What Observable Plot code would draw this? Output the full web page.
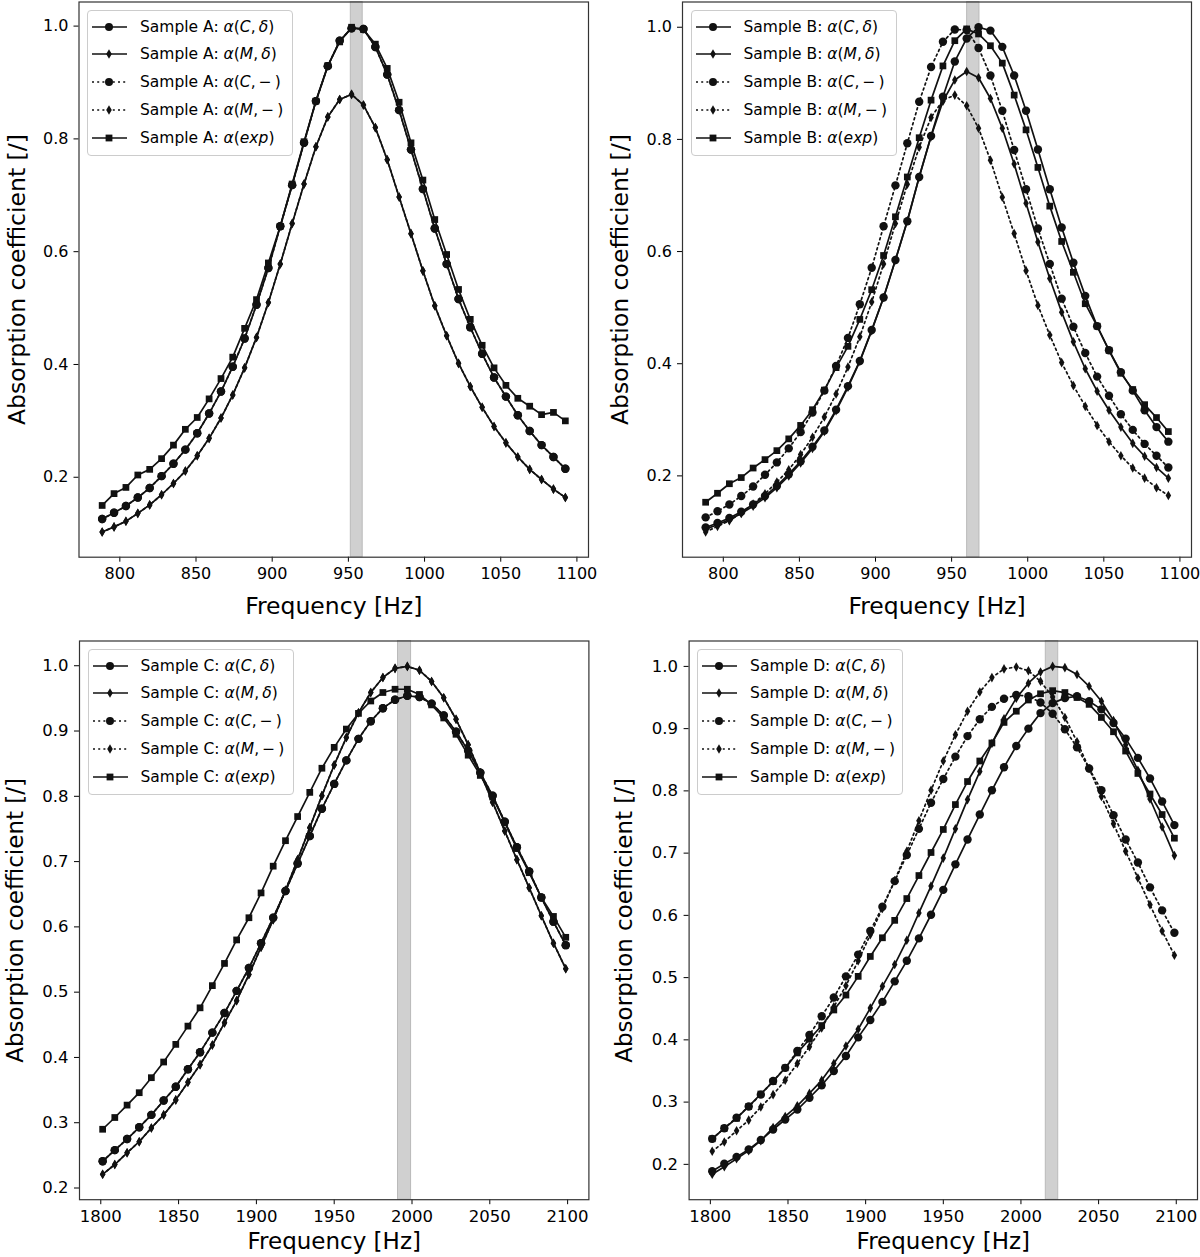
<!DOCTYPE html>
<html><head><meta charset="utf-8">
<script src="https://cdn.jsdelivr.net/npm/d3@7"></script>
<script src="https://cdn.jsdelivr.net/npm/@observablehq/plot@0.6"></script>
<style>
body{margin:0;background:#fff;}
#fig{position:relative;width:1200px;height:1257px;background:#fff;overflow:hidden;}
.panel{position:absolute;}
.legend{position:absolute;background:rgba(255,255,255,0.85);border:1px solid #cccccc;border-radius:4px;box-sizing:border-box;font-family:"DejaVu Sans",sans-serif;font-size:15.5px;color:#000;}
.legend .row{position:absolute;left:0;height:28px;display:flex;align-items:center;white-space:nowrap;}
.legend .txt{position:absolute;left:52px;}
.legend svg{position:absolute;left:3px;top:0;}
</style></head><body><div id="fig"></div>
<script>
// ---------- frequencies (Hz) ----------
const freqAB = [788.4, 796.2, 804.0, 811.8, 819.6, 827.4, 835.2, 843.0, 850.8, 858.6,
  866.4, 874.1, 881.9, 889.7, 897.5, 905.3, 913.1, 920.9, 928.7, 936.5,
  944.3, 952.1, 959.9, 967.7, 975.5, 983.3, 991.1, 998.9, 1006.7, 1014.5,
  1022.3, 1030.0, 1037.8, 1045.6, 1053.4, 1061.2, 1069.0, 1076.8, 1084.6, 1092.4];
const freqCD = [1801.2, 1809.0, 1816.9, 1824.7, 1832.5, 1840.4, 1848.2, 1856.0, 1863.8, 1871.7,
  1879.5, 1887.3, 1895.2, 1903.0, 1910.8, 1918.7, 1926.5, 1934.3, 1942.1, 1950.0,
  1957.8, 1965.6, 1973.5, 1981.3, 1989.1, 1997.0, 2004.8, 2012.6, 2020.4, 2028.3,
  2036.1, 2043.9, 2051.8, 2059.6, 2067.4, 2075.3, 2083.1, 2090.9, 2098.8];

// ---------- ticks ----------
const xTicksAB = [800, 850, 900, 950, 1000, 1050, 1100];
const xTicksCD = [1800, 1850, 1900, 1950, 2000, 2050, 2100];
const yTicksAB = [0.2, 0.4, 0.6, 0.8, 1.0];
const yTicksCD = [0.2, 0.3, 0.4, 0.5, 0.6, 0.7, 0.8, 0.9, 1.0];

// ---------- shaded frequency bands ----------
const bandA = [951.6, 959.4];
const bandB = [960.2, 968.3];
const bandC = [1991.0, 1999.4];
const bandD = [2016.0, 2024.0];

// ---------- Sample A ----------
const sampleA_Cdelta = [0.126, 0.137, 0.149, 0.164, 0.181, 0.202, 0.224, 0.249, 0.278, 0.313, 0.352, 0.396, 0.446, 0.506, 0.571, 0.645, 0.718, 0.793, 0.867, 0.929, 0.974, 0.996, 0.995, 0.963, 0.914, 0.851, 0.781, 0.711, 0.641, 0.578, 0.516, 0.466, 0.419, 0.377, 0.343, 0.310, 0.282, 0.257, 0.236, 0.215];
const sampleA_Mdelta = [0.103, 0.112, 0.122, 0.136, 0.151, 0.169, 0.189, 0.211, 0.238, 0.269, 0.305, 0.346, 0.394, 0.448, 0.510, 0.578, 0.650, 0.720, 0.786, 0.839, 0.870, 0.879, 0.860, 0.820, 0.763, 0.697, 0.632, 0.566, 0.504, 0.451, 0.402, 0.361, 0.324, 0.290, 0.261, 0.236, 0.214, 0.196, 0.179, 0.164];
const sampleA_Cminus = [0.126, 0.137, 0.149, 0.164, 0.181, 0.202, 0.224, 0.249, 0.278, 0.313, 0.352, 0.396, 0.446, 0.506, 0.571, 0.645, 0.718, 0.793, 0.867, 0.929, 0.974, 0.996, 0.995, 0.963, 0.914, 0.851, 0.781, 0.711, 0.641, 0.578, 0.516, 0.466, 0.419, 0.377, 0.343, 0.310, 0.282, 0.257, 0.236, 0.215];
const sampleA_Mminus = [0.103, 0.112, 0.122, 0.136, 0.151, 0.169, 0.189, 0.211, 0.238, 0.269, 0.305, 0.346, 0.394, 0.448, 0.510, 0.578, 0.650, 0.720, 0.786, 0.839, 0.870, 0.879, 0.860, 0.820, 0.763, 0.697, 0.632, 0.566, 0.504, 0.451, 0.402, 0.361, 0.324, 0.290, 0.261, 0.236, 0.214, 0.196, 0.179, 0.164];
const sampleA_exp = [0.150, 0.171, 0.182, 0.204, 0.214, 0.233, 0.257, 0.285, 0.306, 0.339, 0.375, 0.413, 0.464, 0.515, 0.580, 0.645, 0.720, 0.795, 0.867, 0.930, 0.972, 0.998, 0.994, 0.968, 0.925, 0.865, 0.793, 0.727, 0.657, 0.595, 0.533, 0.480, 0.434, 0.394, 0.363, 0.340, 0.326, 0.311, 0.315, 0.300];

// ---------- Sample B ----------
const sampleB_Cdelta = [0.108, 0.116, 0.125, 0.136, 0.149, 0.164, 0.182, 0.203, 0.226, 0.252, 0.281, 0.318, 0.360, 0.405, 0.460, 0.518, 0.585, 0.654, 0.733, 0.806, 0.876, 0.939, 0.980, 1.000, 0.994, 0.965, 0.914, 0.851, 0.782, 0.711, 0.643, 0.580, 0.521, 0.467, 0.424, 0.385, 0.352, 0.317, 0.287, 0.261];
const sampleB_Mdelta = [0.105, 0.113, 0.122, 0.133, 0.146, 0.161, 0.179, 0.200, 0.223, 0.249, 0.279, 0.316, 0.358, 0.404, 0.459, 0.518, 0.585, 0.655, 0.733, 0.805, 0.868, 0.906, 0.921, 0.910, 0.873, 0.820, 0.756, 0.686, 0.617, 0.552, 0.492, 0.439, 0.391, 0.351, 0.317, 0.287, 0.258, 0.235, 0.215, 0.196];
const sampleB_Cminus = [0.126, 0.137, 0.149, 0.164, 0.181, 0.202, 0.224, 0.249, 0.278, 0.313, 0.352, 0.396, 0.446, 0.506, 0.571, 0.645, 0.718, 0.793, 0.867, 0.929, 0.974, 0.996, 0.995, 0.963, 0.914, 0.851, 0.781, 0.711, 0.641, 0.578, 0.516, 0.466, 0.419, 0.377, 0.343, 0.310, 0.282, 0.257, 0.236, 0.215];
const sampleB_Mminus = [0.100, 0.110, 0.120, 0.134, 0.150, 0.168, 0.189, 0.211, 0.238, 0.269, 0.305, 0.346, 0.394, 0.448, 0.510, 0.578, 0.650, 0.720, 0.786, 0.839, 0.870, 0.879, 0.860, 0.820, 0.763, 0.697, 0.632, 0.566, 0.504, 0.451, 0.402, 0.361, 0.324, 0.290, 0.261, 0.236, 0.214, 0.196, 0.179, 0.165];
const sampleB_exp = [0.153, 0.169, 0.186, 0.197, 0.214, 0.229, 0.245, 0.266, 0.290, 0.318, 0.353, 0.393, 0.431, 0.479, 0.532, 0.593, 0.662, 0.733, 0.803, 0.870, 0.931, 0.976, 0.997, 0.988, 0.967, 0.936, 0.879, 0.817, 0.750, 0.681, 0.618, 0.563, 0.507, 0.467, 0.424, 0.383, 0.354, 0.327, 0.304, 0.279];

// ---------- Sample C ----------
const sampleC_Cdelta = [0.241, 0.258, 0.275, 0.293, 0.312, 0.334, 0.355, 0.382, 0.408, 0.438, 0.468, 0.502, 0.537, 0.575, 0.614, 0.655, 0.697, 0.739, 0.781, 0.819, 0.855, 0.888, 0.915, 0.935, 0.948, 0.954, 0.952, 0.942, 0.924, 0.899, 0.870, 0.836, 0.801, 0.761, 0.722, 0.685, 0.645, 0.608, 0.572];
const sampleC_Mdelta = [0.221, 0.236, 0.254, 0.271, 0.292, 0.312, 0.335, 0.362, 0.389, 0.419, 0.453, 0.487, 0.527, 0.569, 0.611, 0.656, 0.703, 0.752, 0.801, 0.848, 0.890, 0.928, 0.959, 0.982, 0.996, 0.999, 0.993, 0.976, 0.951, 0.918, 0.879, 0.836, 0.791, 0.747, 0.703, 0.660, 0.617, 0.575, 0.536];
const sampleC_Cminus = [0.241, 0.258, 0.275, 0.293, 0.312, 0.334, 0.355, 0.382, 0.408, 0.438, 0.468, 0.502, 0.537, 0.575, 0.614, 0.655, 0.697, 0.739, 0.781, 0.819, 0.855, 0.888, 0.915, 0.935, 0.948, 0.954, 0.952, 0.942, 0.924, 0.899, 0.870, 0.836, 0.801, 0.761, 0.722, 0.685, 0.645, 0.608, 0.572];
const sampleC_Mminus = [0.221, 0.236, 0.254, 0.271, 0.292, 0.312, 0.335, 0.362, 0.389, 0.419, 0.453, 0.487, 0.527, 0.569, 0.611, 0.656, 0.703, 0.752, 0.801, 0.848, 0.890, 0.928, 0.959, 0.982, 0.996, 0.999, 0.993, 0.976, 0.951, 0.918, 0.879, 0.836, 0.791, 0.747, 0.703, 0.660, 0.617, 0.575, 0.536];
const sampleC_exp = [0.290, 0.308, 0.327, 0.346, 0.369, 0.393, 0.420, 0.448, 0.476, 0.510, 0.544, 0.580, 0.614, 0.652, 0.693, 0.732, 0.769, 0.806, 0.843, 0.875, 0.903, 0.927, 0.946, 0.959, 0.964, 0.964, 0.956, 0.940, 0.920, 0.895, 0.863, 0.832, 0.799, 0.760, 0.720, 0.683, 0.645, 0.616, 0.584];

// ---------- Sample D ----------
const sampleD_Cdelta = [0.189, 0.201, 0.212, 0.224, 0.239, 0.256, 0.272, 0.288, 0.307, 0.327, 0.350, 0.374, 0.404, 0.432, 0.461, 0.494, 0.527, 0.563, 0.601, 0.641, 0.682, 0.722, 0.762, 0.801, 0.838, 0.872, 0.900, 0.925, 0.941, 0.949, 0.952, 0.944, 0.931, 0.909, 0.884, 0.853, 0.820, 0.783, 0.745];
const sampleD_Mdelta = [0.184, 0.196, 0.209, 0.222, 0.238, 0.259, 0.277, 0.294, 0.314, 0.335, 0.362, 0.390, 0.417, 0.451, 0.486, 0.521, 0.560, 0.604, 0.647, 0.692, 0.739, 0.786, 0.831, 0.876, 0.916, 0.949, 0.973, 0.991, 1.000, 0.998, 0.987, 0.968, 0.944, 0.913, 0.874, 0.833, 0.787, 0.742, 0.696];
const sampleD_Cminus = [0.241, 0.258, 0.275, 0.293, 0.312, 0.334, 0.355, 0.382, 0.408, 0.438, 0.468, 0.502, 0.537, 0.575, 0.614, 0.655, 0.697, 0.739, 0.781, 0.819, 0.855, 0.888, 0.915, 0.935, 0.948, 0.954, 0.952, 0.942, 0.924, 0.899, 0.870, 0.836, 0.801, 0.761, 0.722, 0.685, 0.645, 0.608, 0.572];
const sampleD_Mminus = [0.221, 0.236, 0.254, 0.271, 0.292, 0.312, 0.335, 0.362, 0.389, 0.419, 0.453, 0.487, 0.527, 0.569, 0.611, 0.656, 0.703, 0.752, 0.801, 0.848, 0.890, 0.928, 0.959, 0.982, 0.996, 0.999, 0.993, 0.976, 0.951, 0.918, 0.879, 0.836, 0.791, 0.747, 0.703, 0.660, 0.617, 0.575, 0.536];
const sampleD_exp = [0.241, 0.258, 0.274, 0.293, 0.313, 0.333, 0.355, 0.379, 0.401, 0.423, 0.448, 0.472, 0.502, 0.534, 0.564, 0.592, 0.627, 0.664, 0.701, 0.738, 0.778, 0.815, 0.848, 0.877, 0.910, 0.928, 0.946, 0.956, 0.961, 0.958, 0.950, 0.939, 0.918, 0.895, 0.864, 0.828, 0.795, 0.762, 0.724];

// ---------- series styles & labels ----------
const seriesKeys = ["Cdelta", "Mdelta", "Cminus", "Mminus", "exp"];
const seriesSymbols = ["circle", "diamond", "circle", "diamond", "square"];
const seriesDotted = [false, false, true, true, false];
const seriesMath = [
  '<i>α</i>(<i>C</i>,\u2009<i>δ</i>)',
  '<i>α</i>(<i>M</i>,\u2009<i>δ</i>)',
  '<i>α</i>(<i>C</i>,\u2009−\u2009)',
  '<i>α</i>(<i>M</i>,\u2009−\u2009)',
  '<i>α</i>(<i>exp</i>)'
];
const symbolR = {circle: 4.2, diamond: 2.9, square: 3.8};
const INK = "#111";
const DASH = "2,3.2";

const panels = [
  {name: "A", freq: freqAB, band: bandA, xTicks: xTicksAB, yTicks: yTicksAB,
   values: [sampleA_Cdelta, sampleA_Mdelta, sampleA_Cminus, sampleA_Mminus, sampleA_exp],
   left: 0, top: 0, width: 600, height: 628, mL: 78.5, mR: 12, mT: 1.5, mB: 71.3,
   tickFont: 16, tickPad: 5.5, labelFont: 23.5, xLabelDy: 49, yLabelDx: -62},
  {name: "B", freq: freqAB, band: bandB, xTicks: xTicksAB, yTicks: yTicksAB,
   values: [sampleB_Cdelta, sampleB_Mdelta, sampleB_Cminus, sampleB_Mminus, sampleB_exp],
   left: 600, top: 0, width: 600, height: 628, mL: 82, mR: 9, mT: 1.5, mB: 71.3,
   tickFont: 16, tickPad: 5.5, labelFont: 23.5, xLabelDy: 49, yLabelDx: -62},
  {name: "C", freq: freqCD, band: bandC, xTicks: xTicksCD, yTicks: yTicksCD,
   values: [sampleC_Cdelta, sampleC_Mdelta, sampleC_Cminus, sampleC_Mminus, sampleC_exp],
   left: 0, top: 628, width: 600, height: 629, mL: 79, mR: 11.6, mT: 12.5, mB: 57.8,
   tickFont: 16.5, tickPad: 6, labelFont: 23, xLabelDy: 42, yLabelDx: -64},
  {name: "D", freq: freqCD, band: bandD, xTicks: xTicksCD, yTicks: yTicksCD,
   values: [sampleD_Cdelta, sampleD_Mdelta, sampleD_Cminus, sampleD_Mminus, sampleD_exp],
   left: 600, top: 628, width: 600, height: 629, mL: 88.6, mR: 3, mT: 12.5, mB: 57.8,
   tickFont: 16.5, tickPad: 6, labelFont: 23, xLabelDy: 42, yLabelDx: -64}
];

const fig = document.getElementById("fig");
const FONT = "DejaVu Sans, sans-serif";

for (const p of panels) {
  const [x0, x1] = d3.extent(p.freq);
  const xPad = (x1 - x0) * 0.05;
  const allV = p.values.flat();
  const [y0, y1] = d3.extent(allV);
  const yPad = (y1 - y0) * 0.05;
  const xDom = [x0 - xPad, x1 + xPad];
  const yDom = [y0 - yPad, y1 + yPad];

  const marks = [
    Plot.rect([p.band], {x1: d => d[0], x2: d => d[1], y1: () => yDom[0], y2: () => yDom[1],
      fill: "#d0d0d0", stroke: "#bababa", strokeWidth: 1})
  ];
  p.values.forEach((vals, k) => {
    const rows = p.freq.map((f, i) => ({f, v: vals[i]}));
    marks.push(Plot.line(rows, {x: "f", y: "v", stroke: INK, strokeWidth: 1.7,
      strokeDasharray: seriesDotted[k] ? DASH : null}));
    marks.push(Plot.dot(rows, {x: "f", y: "v", symbol: seriesSymbols[k],
      r: symbolR[seriesSymbols[k]], fill: INK, stroke: "none"}));
  });
  marks.push(Plot.frame({stroke: "#333", strokeWidth: 1.2}));
  marks.push(Plot.text(["Frequency [Hz]"], {text: d => d, frameAnchor: "bottom", dy: p.xLabelDy,
    textAnchor: "middle", lineAnchor: "middle",
    fontSize: p.labelFont, fill: "#000", fontFamily: FONT}));
  marks.push(Plot.text(["Absorption coefficient [/]"], {text: d => d, frameAnchor: "left", dx: p.yLabelDx,
    textAnchor: "middle", lineAnchor: "middle",
    rotate: -90, fontSize: p.labelFont, fill: "#000", fontFamily: FONT}));

  const chart = Plot.plot({
    width: p.width, height: p.height,
    marginLeft: p.mL, marginRight: p.mR, marginTop: p.mT, marginBottom: p.mB,
    x: {domain: xDom, ticks: p.xTicks, tickFormat: d3.format("d"), tickSize: 5, tickPadding: p.tickPad, label: null},
    y: {domain: yDom, ticks: p.yTicks, tickFormat: d3.format(".1f"), tickSize: 5, tickPadding: p.tickPad, label: null},
    style: {fontFamily: FONT, fontSize: p.tickFont + "px", color: "#000", background: "transparent", overflow: "visible"},
    marks
  });
  const wrap = document.createElement("div");
  wrap.className = "panel";
  wrap.style.left = p.left + "px";
  wrap.style.top = p.top + "px";
  wrap.appendChild(chart);
  fig.appendChild(wrap);

  // legend (upper-left inside the axes)
  const lg = document.createElement("div");
  lg.className = "legend";
  lg.style.left = (p.left + p.mL + 8.5) + "px";
  lg.style.top = (p.top + p.mT + 8) + "px";
  lg.style.width = "206px";
  lg.style.height = "146px";
  seriesKeys.forEach((key, k) => {
    const row = document.createElement("div");
    row.className = "row";
    row.style.top = (16 + 27.8 * k - 14) + "px";
    row.style.width = "204px";
    const sym = seriesSymbols[k];
    let markerSvg;
    if (sym === "circle") markerSvg = `<circle cx="18" cy="14" r="4" fill="${INK}"/>`;
    else if (sym === "diamond") markerSvg = `<path d="M18,9.2L20.8,14L18,18.8L15.2,14Z" fill="${INK}"/>`;
    else markerSvg = `<rect x="14.6" y="10.6" width="6.8" height="6.8" fill="${INK}"/>`;
    row.innerHTML = `<svg width="40" height="28"><line x1="1" x2="36" y1="14" y2="14" stroke="${INK}" stroke-width="1.7" ${seriesDotted[k] ? `stroke-dasharray="${DASH}"` : ''}/>${markerSvg}</svg>` +
      `<span class="txt">Sample ${p.name}: ${seriesMath[k]}</span>`;
    lg.appendChild(row);
  });
  fig.appendChild(lg);
}
</script></body></html>
